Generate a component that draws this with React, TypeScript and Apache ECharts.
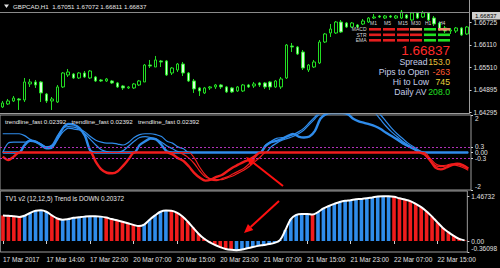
import React, { useEffect, useRef } from 'react';
import * as echarts from 'echarts';

const FONT = 'Liberation Sans';

// ---- time axis ----
const sessionDays: [string, number, number][] = [
  ['17 Mar', 6, 22],
  ['20 Mar', 0, 23],
  ['21 Mar', 0, 23],
  ['22 Mar', 0, 20],
];
const categories: string[] = [];
sessionDays.forEach(([d, a, b]) => {
  for (let h = a; h <= b; h++) categories.push(`${d} ${String(h).padStart(2, '0')}:00`);
});
const firstTickLabel = '17 Mar 2017';

// ---- price candles (GBPCAD H1) ----
const opens = [1.64431,1.64512,1.64593,1.64647,1.64620,1.65053,1.65107,1.65107,1.64782,1.64593,1.64566,1.64972,1.65296,1.65323,1.65215,1.65350,1.65215,1.65242,1.65161,1.65134,1.65134,1.65080,1.64999,1.64945,1.64945,1.65026,1.65107,1.65566,1.65512,1.65675,1.65675,1.65350,1.65431,1.65593,1.65350,1.65134,1.64945,1.64810,1.64945,1.64972,1.65026,1.64972,1.64945,1.64864,1.64864,1.65026,1.64999,1.65080,1.65080,1.65107,1.64972,1.64972,1.65215,1.66080,1.66053,1.65918,1.65431,1.65512,1.65621,1.66188,1.66432,1.66432,1.66729,1.66702,1.66594,1.66648,1.66675,1.66729,1.66837,1.66891,1.66837,1.66891,1.66837,1.66837,1.66918,1.66783,1.66972,1.66864,1.66972,1.66837,1.66702,1.66567,1.66486,1.66486,1.66567,1.66405];
const closes = [1.64539,1.64593,1.64674,1.64620,1.65107,1.65107,1.65026,1.64810,1.64593,1.64647,1.64972,1.65350,1.65377,1.65215,1.65350,1.65242,1.65404,1.65134,1.65134,1.65188,1.65080,1.64972,1.64945,1.64972,1.65053,1.65134,1.65566,1.65539,1.65702,1.65648,1.65296,1.65485,1.65593,1.65350,1.65134,1.64918,1.64864,1.64945,1.64972,1.65026,1.64972,1.64837,1.64837,1.64972,1.65026,1.64972,1.65053,1.65026,1.64972,1.64972,1.65134,1.65188,1.66107,1.66053,1.65864,1.65485,1.65566,1.65648,1.66188,1.66405,1.66540,1.66729,1.66459,1.66594,1.66702,1.66594,1.66756,1.66837,1.66864,1.66864,1.66891,1.66864,1.66891,1.67000,1.66837,1.66972,1.66837,1.66972,1.66783,1.66675,1.66513,1.66486,1.66513,1.66567,1.66378,1.66594];
const lows = [1.64404,1.64485,1.64566,1.64350,1.64566,1.64972,1.64945,1.64566,1.64539,1.64350,1.64539,1.64945,1.65242,1.65188,1.65188,1.65215,1.65188,1.65107,1.65107,1.65107,1.65053,1.64945,1.64891,1.64918,1.64918,1.64999,1.65107,1.65485,1.65512,1.65512,1.65269,1.65296,1.65377,1.65269,1.65107,1.64810,1.64728,1.64782,1.64891,1.64918,1.64918,1.64810,1.64810,1.64837,1.64837,1.64945,1.64945,1.64972,1.64918,1.64891,1.64945,1.64918,1.65188,1.65918,1.65837,1.65431,1.65377,1.65485,1.65593,1.66161,1.66324,1.66405,1.66432,1.66567,1.66567,1.66567,1.66648,1.66702,1.66810,1.66837,1.66810,1.66837,1.66810,1.66810,1.66810,1.66756,1.66810,1.66837,1.66756,1.66621,1.66486,1.66432,1.66405,1.66432,1.66351,1.66378];
const highs = [1.64593,1.64647,1.64728,1.64674,1.65215,1.65188,1.65161,1.65134,1.64810,1.64701,1.65026,1.65377,1.65458,1.65350,1.65377,1.65404,1.65431,1.65269,1.65188,1.65215,1.65161,1.65107,1.65026,1.64999,1.65080,1.65161,1.65593,1.65702,1.65810,1.65702,1.65702,1.65512,1.65621,1.65648,1.65377,1.65188,1.64972,1.64972,1.64999,1.65053,1.65053,1.64999,1.64972,1.64999,1.65053,1.65053,1.65107,1.65107,1.65107,1.65134,1.65161,1.65242,1.66134,1.66161,1.66080,1.65972,1.65593,1.65702,1.66242,1.66432,1.66675,1.66756,1.66783,1.66729,1.66729,1.66675,1.66810,1.66864,1.66945,1.66918,1.66918,1.66918,1.66918,1.67054,1.66945,1.67000,1.67000,1.67027,1.67000,1.66891,1.66729,1.66621,1.66567,1.66594,1.66594,1.66621];
const bidPrice = 1.66837;
const priceTicks = [1.64295, 1.64895, 1.65510, 1.66110, 1.66725];

// ---- trendline_fast (3 lines) ----
const trendA = [-0.22,-0.40,-0.22,0.0,0.40,0.63,0.58,0.40,0.22,0.28,0.75,1.30,1.52,1.48,1.30,0.90,0.10,-0.50,-0.90,-1.08,-1.11,-1.00,-0.70,-0.35,0.0,0.40,0.60,0.75,0.70,0.40,0.05,-0.10,-0.30,-0.45,-0.75,-1.10,-1.35,-1.50,-1.45,-1.30,-1.20,-1.00,-0.80,-0.65,-0.50,-0.38,-0.20,0.0,0.35,0.55,0.62,0.72,0.88,0.99,0.85,0.80,0.85,1.15,1.80,2.05,2.10,2.10,2.10,2.05,1.80,1.66,1.58,1.50,1.40,1.25,1.05,0.88,0.70,0.50,0.35,0.20,0.05,-0.10,-0.40,-0.80,-0.90,-0.80,-0.67,-0.60,-0.67,-0.85];
const trendB = [1.0,1.0,1.0,1.0,0.9,0.7,0.55,0.45,0.3,0.4,0.9,1.3,1.38,1.35,1.25,1.1,0.85,0.65,0.55,0.5,0.5,0.45,0.4,0.55,0.8,0.95,1.0,1.0,0.95,0.85,0.6,0.5,0.3,0.2,0.0,-0.3,-0.8,-1.2,-1.45,-1.5,-1.4,-1.3,-1.15,-1.0,-0.85,-0.6,-0.3,0.0,0.4,0.6,0.75,0.8,0.85,0.95,1.1,1.3,1.6,1.9,2.2,2.3,2.3,2.3,2.3,2.3,2.3,2.3,2.3,2.3,2.1,1.75,1.4,1.1,0.85,0.6,0.4,0.2,0.05,-0.1,-0.45,-0.7,-0.75,-0.72,-0.65,-0.7,-0.8,-0.95];
const trendC = [0.0,0.5,0.55,0.55,0.55,0.65,0.6,0.45,0.3,0.35,0.7,1.1,1.3,1.25,1.2,1.0,0.7,0.4,0.15,0.05,0.0,0.0,0.1,0.35,0.6,0.8,0.85,0.8,0.7,0.55,0.35,0.2,0.05,-0.1,-0.3,-0.6,-1.0,-1.3,-1.4,-1.45,-1.45,-1.35,-1.25,-1.1,-0.95,-0.75,-0.5,-0.25,0.0,0.3,0.5,0.65,0.75,0.85,1.0,1.2,1.5,1.8,2.1,2.3,2.3,2.3,2.3,2.3,2.3,2.3,2.3,2.3,2.3,2.0,1.65,1.3,1.0,0.75,0.5,0.3,0.12,0.0,-0.3,-0.6,-0.7,-0.68,-0.6,-0.62,-0.72,-0.85];
const trendTicks = [-2, -0.3, 0, 0.3, 2];
const trendTitles = ['trendline_fast 0.02392', 'trendline_fast 0.02392', 'trendline_fast 0.02392'];

// ---- TVI v2 histogram ----
const tviValues = [0.84,0.83,0.81,0.79,0.83,0.92,0.99,1.01,0.96,0.84,0.74,0.70,0.72,0.76,0.78,0.80,0.81,0.81,0.80,0.77,0.72,0.68,0.63,0.58,0.53,0.49,0.54,0.70,0.84,0.96,1.00,0.99,0.93,0.81,0.64,0.44,0.24,0.08,-0.04,-0.13,-0.20,-0.26,-0.29,-0.30,-0.28,-0.24,-0.20,-0.16,-0.13,-0.10,-0.06,0.03,0.36,0.72,0.86,0.89,0.89,0.87,0.95,1.07,1.15,1.22,1.28,1.32,1.34,1.37,1.38,1.40,1.43,1.46,1.467,1.467,1.45,1.40,1.36,1.31,1.22,1.11,0.97,0.80,0.61,0.43,0.29,0.17,0.07,0.02];
const tviUp = [0,0,0,0,1,1,1,1,1,0,0,1,1,1,1,1,1,1,1,0,0,0,0,0,0,0,1,1,1,1,1,0,0,0,0,0,0,0,0,0,0,0,0,1,1,1,1,1,1,1,1,1,1,1,1,1,1,0,1,1,1,1,1,1,1,1,1,1,1,1,1,1,0,0,0,0,0,0,0,0,0,0,0,0,0,0];
const tviTicks = [-0.36098, 0, 1.46732];

// ---- dashboard ----
const tfHeaders = ['M1', 'M5', 'M15', 'M30', 'H1', 'H4'];
const rowNames = ['MACD', 'STR', 'EMA'];
const rowStates = [
  ['dn', 'dn', 'dn', 'weak', 'up', 'weak'],
  ['dn', 'dn', 'dn', 'dn', 'up', 'up'],
  ['dn', 'dn', 'dn', 'dn', 'up', 'up'],
];
const infoLabels = ['Spread', 'Pips to Open', 'Hi to Low', 'Daily AV'];
const infoValues = ['153.0', '-263', '745', '208.0'];

const BLUE = '#2f8ceb';
const RED = '#f01c1c';
const BORDER = '#9c9c9c';

function arrow(tail: number[], tip: number[]) {
  const dx = tip[0] - tail[0], dy = tip[1] - tail[1];
  const len = Math.hypot(dx, dy);
  const ux = dx / len, uy = dy / len;
  const bx = tip[0] - ux * 9, by = tip[1] - uy * 9;
  const nx = -uy, ny = ux;
  return [
    { type: 'line', z: 100, shape: { x1: tail[0], y1: tail[1], x2: bx, y2: by }, style: { stroke: '#ff1010', lineWidth: 2 } },
    { type: 'polygon', z: 100, shape: { points: [[tip[0], tip[1]], [bx + nx * 4, by + ny * 4], [bx - nx * 4, by - ny * 4]] }, style: { fill: '#ff1010' } },
  ];
}

function txt(text: string, x: number, y: number, fill: string, size: number, align = 'left') {
  return {
    type: 'text', z: 100, x, y,
    style: { text, fill, fontSize: size, fontFamily: FONT, align, verticalAlign: 'middle', textAlign: align, textVerticalAlign: 'middle' },
  };
}

export default function App() {
  const ref = useRef<HTMLDivElement>(null);
  useEffect(() => {
    document.body.style.margin = '0';
    document.body.style.background = '#000';
    const chart = echarts.init(ref.current!, null, { renderer: 'svg' });

    const candleData = opens.map((o, i) => [o, closes[i], lows[i], highs[i]]);
    const pos = (a: number[]) => a.map((v) => (v > 0 ? v : 0));
    const neg = (a: number[]) => a.map((v) => (v < 0 ? v : 0));
    const trendLines = [trendA, trendB, trendC];
    const widths = [2.4, 1.2, 1.2];

    const lineSeries: any[] = [];
    trendLines.forEach((d, k) => {
      lineSeries.push({
        type: 'line', xAxisIndex: 1, yAxisIndex: 1, data: pos(d), symbol: 'none', smooth: 0.3,
        lineStyle: { color: BLUE, width: widths[k] }, z: 3,
        markLine: k === 0 ? {
          silent: true, symbol: 'none', label: { show: false },
          lineStyle: { color: '#b030b8', type: [2, 2], width: 1 },
          data: [{ yAxis: 0.3 }, { yAxis: -0.3 }],
        } : undefined,
      });
    });
    trendLines.forEach((d, k) => {
      lineSeries.push({
        type: 'line', xAxisIndex: 1, yAxisIndex: 1, data: neg(d), symbol: 'none', smooth: 0.3,
        lineStyle: { color: RED, width: widths[k] }, z: 4,
      });
    });

    const cellColor: Record<string, string> = { dn: '#e41e1e', up: '#22e022', weak: '#f08a6c' };
    const cellX = [369, 383, 397, 410, 424, 438];
    const rowY = [28, 33.5, 39];
    const dash: any[] = [];
    tfHeaders.forEach((h, j) => dash.push(txt(h, cellX[j] + 1, 22.7, '#d8d8d8', 5)));
    rowNames.forEach((r, k) => {
      dash.push(txt(r, 366.5, rowY[k] + 1, '#d8d8d8', 5, 'right'));
      rowStates[k].forEach((s, j) => {
        dash.push({ type: 'rect', z: 100, shape: { x: cellX[j], y: rowY[k], width: 12, height: 2.6 }, style: { fill: cellColor[s] } });
      });
    });
    const infoY = [61.7, 71.7, 81.7, 91.7];
    const infoColors = ['#e8c23a', '#ff5a30', '#e8d23a', '#22e022'];
    const infoLabelRight = [427.5, 429, 429, 426.5];
    const info: any[] = [];
    infoLabels.forEach((l, k) => {
      info.push(txt(l, infoLabelRight[k], infoY[k], '#c4cde8', 8.7, 'right'));
      info.push(txt(infoValues[k], 450, infoY[k], infoColors[k], 8.7, 'right'));
    });

    const option: any = {
      backgroundColor: '#000',
      animation: false,
      textStyle: { fontFamily: FONT },
      grid: [
        { left: 0, top: 0, width: 471, height: 113 },
        { left: 0, top: 115, width: 471, height: 75, show: true, borderColor: BORDER, borderWidth: 1 },
        { left: 0, top: 191, width: 471, height: 61, show: true, borderColor: BORDER, borderWidth: 1 },
      ],
      xAxis: [
        { type: 'category', gridIndex: 0, data: categories, boundaryGap: true, axisLabel: { show: false }, axisTick: { show: false }, axisLine: { show: true, lineStyle: { color: BORDER } } },
        { type: 'category', gridIndex: 1, data: categories, boundaryGap: true, axisLabel: { show: false }, axisTick: { show: false }, axisLine: { show: false } },
        {
          type: 'category', gridIndex: 2, data: categories, boundaryGap: true,
          axisLine: { show: false },
          axisTick: { show: true, alignWithLabel: true, interval: 7, length: 3, lineStyle: { color: '#d0d0d0' } },
          axisLabel: {
            interval: 7, align: 'left', color: '#e0e0e0', fontSize: 6.5, margin: 4, fontFamily: FONT,
            formatter: (v: string, i: number) => (i === 0 ? firstTickLabel : v),
          },
        },
      ],
      yAxis: [
        {
          type: 'value', gridIndex: 0, position: 'right', min: 1.64268, max: 1.67324,
          splitLine: { show: false },
          axisLine: { show: true, lineStyle: { color: BORDER } },
          axisTick: { show: true, customValues: priceTicks, length: 2, lineStyle: { color: '#d0d0d0' } },
          axisLabel: { customValues: priceTicks, color: '#e0e0e0', fontSize: 6.5, margin: 4, fontFamily: FONT, formatter: (v: number) => v.toFixed(5) },
        },
        {
          type: 'value', gridIndex: 1, position: 'right', min: -2, max: 2,
          splitLine: { show: false }, axisLine: { show: false },
          axisTick: { show: true, customValues: trendTicks, length: 2, lineStyle: { color: '#d0d0d0' } },
          axisLabel: {
            customValues: trendTicks, color: '#e0e0e0', fontSize: 6.5, margin: 4, fontFamily: FONT,
            verticalAlignMinLabel: 'bottom', verticalAlignMaxLabel: 'top',
            formatter: (v: number) => (v === 0 ? '0.00' : String(v)),
          },
        },
        {
          type: 'value', gridIndex: 2, position: 'right', min: -0.36098, max: 1.641,
          splitLine: { show: false }, axisLine: { show: false },
          axisTick: { show: true, customValues: tviTicks, length: 2, lineStyle: { color: '#d0d0d0' } },
          axisLabel: {
            customValues: tviTicks, color: '#e0e0e0', fontSize: 6.5, margin: 4, fontFamily: FONT,
            verticalAlignMinLabel: 'bottom',
            formatter: (v: number) => (v === 0 ? '0.00' : v.toFixed(5)),
          },
        },
      ],
      series: [
        {
          type: 'candlestick', xAxisIndex: 0, yAxisIndex: 0, data: candleData, barWidth: 3,
          itemStyle: { color: '#000', color0: '#d6ffd6', borderColor: '#22dd22', borderColor0: '#22dd22', borderWidth: 1 },
          markLine: {
            silent: true, symbol: 'none', label: { show: false },
            lineStyle: { color: '#8a8a8a', type: 'solid', width: 1 },
            data: [{ yAxis: bidPrice }],
          },
        },
        ...lineSeries,
        {
          type: 'bar', xAxisIndex: 2, yAxisIndex: 2, barWidth: 3.6,
          data: tviValues.map((v, i) => ({ value: v, itemStyle: { color: tviUp[i] ? BLUE : RED } })),
        },
        {
          type: 'line', xAxisIndex: 2, yAxisIndex: 2, data: tviValues, symbol: 'none', smooth: 0.4,
          lineStyle: { color: '#ffffff', width: 2 }, z: 5,
        },
      ],
      graphic: {
        elements: [
          { type: 'polygon', z: 100, shape: { points: [[4, 4.5], [9, 4.5], [6.5, 8]] }, style: { fill: '#e0e0e0' } },
          txt('GBPCAD,H1  1.67051 1.67072 1.66811 1.66837', 13, 6.5, '#e8e8e8', 6.2),
          { type: 'rect', z: 100, shape: { x: 472, y: 12, width: 28, height: 7.5 }, style: { fill: '#cfcfcf' } },
          txt(bidPrice.toFixed(5), 475, 15.6, '#000', 6),
          txt(bidPrice.toFixed(5), 450, 50, '#ff2a2a', 13.5, 'right'),
          ...dash,
          ...info,
          txt(trendTitles[0], 5, 121.5, '#e8e8e8', 6.2),
          txt(trendTitles[1], 71.5, 121.5, '#e8e8e8', 6.2),
          txt(trendTitles[2], 138, 121.5, '#e8e8e8', 6.2),
          txt('TV1 v2 (12,12,5) Trend is DOWN 0.20372', 5, 198.7, '#e8e8e8', 6.4),
          ...arrow([283, 186], [246, 157]),
          ...arrow([279, 201], [244, 233]),
        ],
      },
    };
    chart.setOption(option);
    return () => chart.dispose();
  }, []);
  return <div ref={ref} style={{ position: 'fixed', left: 0, top: 0, width: 500, height: 268, background: '#000' }} />;
}
